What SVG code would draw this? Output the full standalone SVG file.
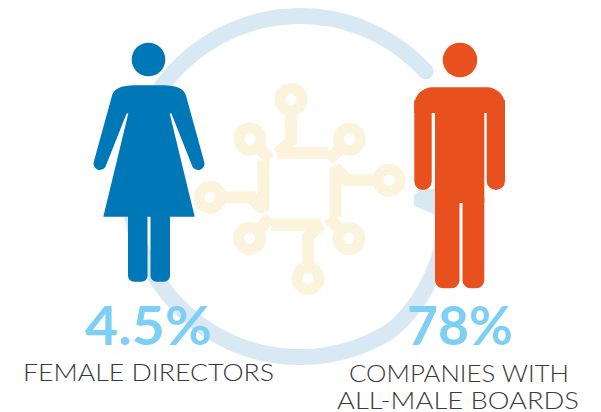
<svg xmlns="http://www.w3.org/2000/svg" width="601" height="412" viewBox="0 0 601 412">
<style>
.ring{fill:none;stroke:#d9e9f3;stroke-width:16;stroke-linecap:round}
.cc{fill:none;stroke:#fcf3dd;stroke-width:12;stroke-linejoin:miter;stroke-miterlimit:2}
.pin{fill:none;stroke:#fcf3dd;stroke-width:11}
.fem{fill:#0077b6}
.mal{fill:#e8511e}
.pct{font-family:Lato,"Liberation Sans",sans-serif;font-weight:700;font-size:53px;fill:#7dcff5;text-anchor:middle}
.lbl{font-family:Lato,"Liberation Sans",sans-serif;font-weight:300;font-size:22.5px;fill:#3a3a3a;text-anchor:middle}
</style>
<defs>
<g id="quad">
<circle class="pin" cx="-8.5" cy="-89.5" r="11"/>
<circle class="pin" cx="-49.5" cy="-49.8" r="11"/>
<path class="cc" d="M-8.5,-78 L-8.5,-48 L-21,-36 L28.5,-36"/>
<path class="cc" d="M-41.7,-42 L-29,-29"/>
</g>
</defs>
<rect width="601" height="412" fill="#ffffff"/>
<g id="cycle-arrow">
<path class="ring" d="M425.7,71.3 A170.5 170.5 0 1 0 385.3,334.2 C411,319.4 446,268 446,215"/>
<path d="M450,188 L419,191 L415,196 L415,205 L436,214 L450,214 Z" fill="#d9e9f3" stroke="#d9e9f3" stroke-width="2" stroke-linejoin="round"/>
</g>
<g id="circuit" transform="translate(299.5,188.8)">
<use href="#quad"/>
<use href="#quad" transform="rotate(90)"/>
<use href="#quad" transform="rotate(180)"/>
<use href="#quad" transform="rotate(270)"/>
</g>
<g id="female" class="fem">
<circle cx="148.5" cy="59.5" r="16.8"/>
<path d="M103.3,216.7 L128.3,113.5 L126.6,113.5 L105.5,166.7 A6.4 6.4 0 0 1 93.8,161.7 L111.7,96.7 C113.5,88.5 121,85.3 135,85.3 L163,85.3 C177,85.3 184.5,88.5 186.3,96.7 L204.2,161.7 A6.4 6.4 0 0 1 192.5,166.7 L171.4,113.5 L169.7,113.5 L194.7,216.7 Z"/>
<rect x="128" y="205" width="19.5" height="76.7" rx="6"/>
<rect x="150.5" y="205" width="19.5" height="76.7" rx="6"/>
</g>
<g id="male" class="mal">
<circle cx="460" cy="60" r="17.3"/>
<path d="M414.3,113 L414.3,105.3 A18 18 0 0 1 432.3,87.3 L487,87.3 A18 18 0 0 1 505,105.3 L505,113 Z"/>
<path d="M414.3,100 L414.3,181.3 A8.7 8.7 0 0 0 431.7,181.3 L431.7,100 Z"/>
<path d="M486.7,100 L486.7,180.9 A9.15 9.15 0 0 0 505,180.9 L505,100 Z"/>
<rect x="435" y="100" width="49.3" height="103"/>
<rect x="435" y="190" width="24.5" height="98.3" rx="8"/>
<rect x="462.5" y="190" width="21.8" height="98.3" rx="8"/>
</g>
<g id="stat-female">
<text class="pct" x="148.5" y="345" textLength="127" lengthAdjust="spacingAndGlyphs">4.5%</text>
<text class="lbl" x="148.5" y="381" textLength="251" lengthAdjust="spacingAndGlyphs">FEMALE DIRECTORS</text>
</g>
<g id="stat-male">
<text class="pct" x="460" y="345" textLength="106" lengthAdjust="spacingAndGlyphs">78%</text>
<text class="lbl" x="459" y="382" textLength="220" lengthAdjust="spacingAndGlyphs">COMPANIES WITH</text>
<text class="lbl" x="458" y="408.5" textLength="242" lengthAdjust="spacingAndGlyphs">ALL-MALE BOARDS</text>
</g>
</svg>
